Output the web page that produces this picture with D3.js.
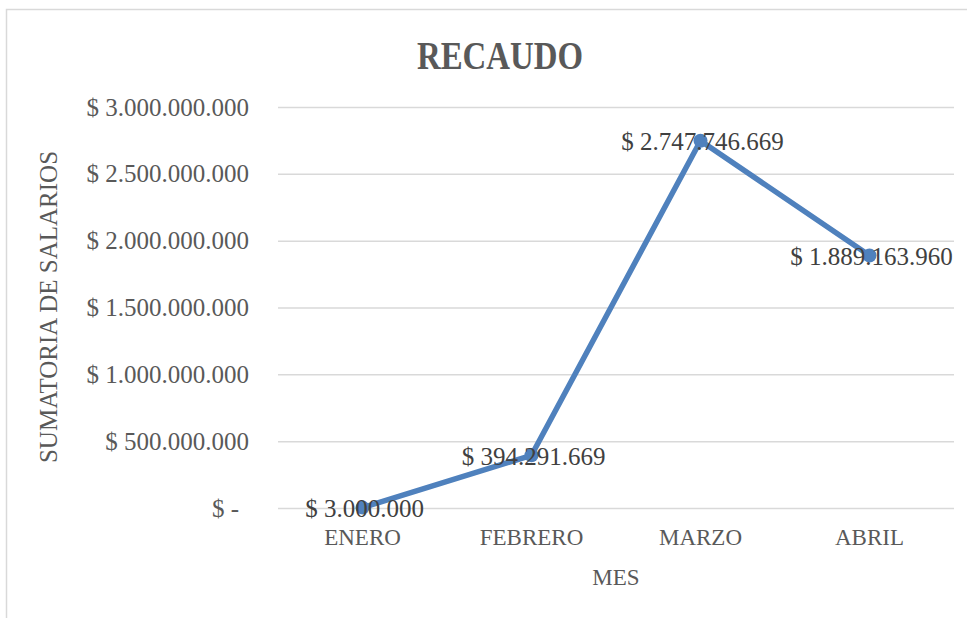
<!DOCTYPE html>
<html>
<head>
<meta charset="utf-8">
<script src="https://cdn.jsdelivr.net/npm/d3@7"></script>
<style>
  body { margin: 0; background: #fff; }
  svg { display: block; font-family: "Liberation Serif", serif; }
</style>
</head>
<body>
<svg id="chart" width="967" height="618"></svg>
<script>
// values
const months = ["ENERO", "FEBRERO", "MARZO", "ABRIL"];
const recaudo = [3000000, 394291669, 2747746669, 1889163960];
const yTicks = [0, 500000000, 1000000000, 1500000000, 2000000000, 2500000000, 3000000000];

const locale = d3.formatLocale({ decimal: ",", thousands: ".", grouping: [3], currency: ["$", ""] });
const num = locale.format(",");
const money = v => v === 0 ? "$ -" : "$ " + num(v);

const svg = d3.select("#chart");
const plot = { left: 278, right: 954, top: 107, bottom: 508 };

// chart area border
svg.append("rect")
  .attr("x", 6.5).attr("y", 9.5).attr("width", 1000).attr("height", 700)
  .attr("fill", "#fff").attr("stroke", "#d9d9d9").attr("stroke-width", 1.5);

svg.append("text")
  .attr("x", 500).attr("y", 69)
  .attr("text-anchor", "middle")
  .attr("font-size", 40).attr("font-weight", "bold")
  .attr("textLength", 166).attr("lengthAdjust", "spacingAndGlyphs")
  .attr("fill", "#595959")
  .text("RECAUDO");

const x = d3.scaleBand().domain(months).range([plot.left, plot.right]);
const y = d3.scaleLinear().domain([0, 3000000000]).range([plot.bottom, plot.top]);

// y axis with gridlines
const yAxis = svg.append("g")
  .attr("transform", `translate(${plot.left},0)`)
  .call(d3.axisLeft(y).tickValues(yTicks).tickSize(-(plot.right - plot.left)).tickPadding(29).tickFormat(money));
yAxis.select(".domain").remove();
yAxis.selectAll("line").attr("stroke", "#d9d9d9").attr("stroke-width", 1.5);
yAxis.selectAll("text")
  .attr("font-family", "Liberation Serif").attr("font-size", 25).attr("fill", "#595959")
  .attr("dx", d => d === 0 ? -10 : 0);

// x axis
const xAxis = svg.append("g")
  .attr("transform", `translate(0,${plot.bottom})`)
  .call(d3.axisBottom(x).tickSize(0).tickPadding(21));
xAxis.select(".domain").remove();
xAxis.selectAll("text")
  .attr("font-family", "Liberation Serif").attr("font-size", 23).attr("fill", "#595959");

// axis titles
svg.append("text")
  .attr("x", 616).attr("y", 585)
  .attr("text-anchor", "middle").attr("font-size", 23).attr("fill", "#595959")
  .text("MES");

svg.append("text")
  .attr("transform", "translate(57,307) rotate(-90)")
  .attr("text-anchor", "middle").attr("font-size", 25).attr("fill", "#595959")
  .text("SUMATORIA DE SALARIOS");

// series
const pts = months.map((m, i) => ({ m, v: recaudo[i] }));
const cx = d => x(d.m) + x.bandwidth() / 2;

svg.append("path")
  .datum(pts)
  .attr("fill", "none").attr("stroke", "#4f81bd").attr("stroke-width", 5.5)
  .attr("stroke-linejoin", "round").attr("stroke-linecap", "round")
  .attr("d", d3.line().x(cx).y(d => y(d.v)));

svg.selectAll(".dot").data(pts).join("circle")
  .attr("class", "dot")
  .attr("cx", cx).attr("cy", d => y(d.v)).attr("r", 7)
  .attr("fill", "#4f81bd");

svg.selectAll(".lbl").data(pts).join("text")
  .attr("class", "lbl")
  .attr("x", d => cx(d) + 2).attr("y", d => y(d.v) + 1)
  .attr("text-anchor", "middle").attr("dominant-baseline", "central")
  .attr("font-size", 25).attr("fill", "#404040")
  .text(d => money(d.v));
</script>
</body>
</html>
